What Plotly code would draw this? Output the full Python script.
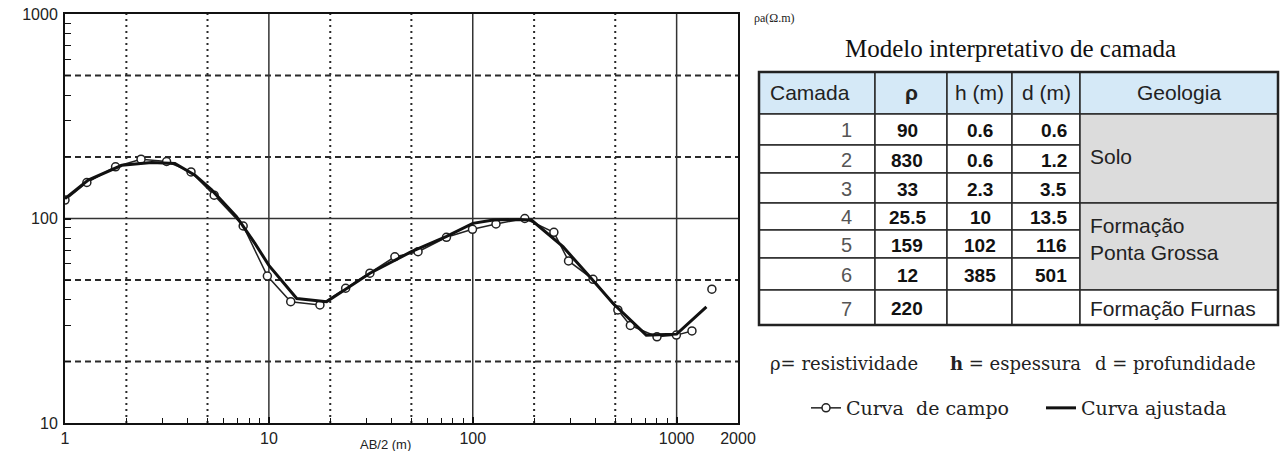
import math
import plotly.graph_objects as go

W, H = 1281, 451

# ---------------- data ----------------
# Field sounding curve (Curva de campo): AB/2 (m) and apparent resistivity (ohm.m)
ab2_field = [1.0, 1.28, 1.77, 2.36, 3.15, 4.15, 5.39, 7.48, 9.83, 12.8, 17.8, 23.8,
             31.3, 41.5, 53.9, 74.3, 99.7, 130, 180, 250, 295, 389, 515, 593,
             801, 997, 1189, 1489]
rho_field = [123, 150, 179, 195, 190, 169, 130, 91.9, 52.3, 39.2, 37.8, 45.6,
             54.0, 65.0, 68.8, 80.9, 88.5, 94, 100, 85.6, 62.0, 50.4, 35.7, 30.0,
             26.4, 26.9, 28.2, 45.1]
n_field_line = 27  # the last reading is not joined by the field line

# Fitted model curve (Curva ajustada)
ab2_fit = [1.0, 1.3, 1.9, 2.66, 3.46, 4.34, 5.24, 6.94, 8.54, 10, 13.7, 19.2, 31.3,
           50, 74, 100, 126, 170, 194, 277, 375, 487, 710, 1000, 1400]
rho_fit = [125, 154, 182, 188, 186, 163, 138, 102, 75.6, 59, 40.6, 39.2, 54,
           68.8, 81.5, 94.7, 98.3, 99, 98.3, 72.8, 51.9, 38.5, 26.9, 27.2, 37]

# Axis ticks / grid
x_tick_vals = [1, 10, 100, 1000, 2000]
x_tick_text = ["1", "10", "100", "1000", "2000"]
y_tick_vals = [10, 100, 1000]
y_tick_text = ["10", "100", "1000"]
x_grid_solid = [10, 100, 1000]
x_grid_dotted = [2, 5, 20, 50, 200, 500]
y_grid_solid = [100]
y_grid_dashed = [20, 50, 200, 500]
x_minor = [m * d for d in (1, 10, 100) for m in range(2, 10)]
y_minor = [m * d for d in (10, 100) for m in range(2, 10)]

# Layer model table
table_title = "Modelo interpretativo de camada"
table_header = ["Camada", "<b>ρ</b>", "h (m)", "d (m)", "Geologia"]
camada = ["1", "2", "3", "4", "5", "6", "7"]
rho_layer = ["90", "830", "33", "25.5", "159", "12", "220"]
h_layer = ["0.6", "0.6", "2.3", "10", "102", "385", ""]
d_layer = ["0.6", "1.2", "3.5", "13.5", "116", "501", ""]
geologia = ["Solo", "Formação<br>Ponta Grossa", "Formação Furnas"]
geologia_rows = [(0, 3), (3, 6), (6, 7)]
geologia_fill = ["#dcdcdc", "#dcdcdc", "#ffffff"]

# ---------------- layout helpers (pixel -> paper) ----------------
def fx(x):
    return x / W

def fy(y):
    return 1 - y / H

PLOT_L, PLOT_R, PLOT_T, PLOT_B = 65, 738, 14, 423
col_edges = [759, 875, 947, 1012, 1080, 1278]
row_edges = [72, 114, 145, 173, 203, 230, 258, 290, 325]

fig = go.Figure()

# ---------------- grid lines (as traces on the log axes) ----------------
def vlines(vals):
    xs, ys = [], []
    for v in vals:
        xs += [v, v, None]
        ys += [10, 1000, None]
    return xs, ys

def hlines(vals):
    xs, ys = [], []
    for v in vals:
        xs += [1, 2000, None]
        ys += [v, v, None]
    return xs, ys

gx, gy = vlines(x_grid_dotted)
fig.add_trace(go.Scatter(x=gx, y=gy, mode="lines", hoverinfo="skip", showlegend=False,
                         line=dict(color="#2a2a2a", width=2, dash="2px,4px")))
gx, gy = hlines(y_grid_dashed)
fig.add_trace(go.Scatter(x=gx, y=gy, mode="lines", hoverinfo="skip", showlegend=False,
                         line=dict(color="#2a2a2a", width=2, dash="6px,4px")))
gx, gy = vlines(x_grid_solid)
fig.add_trace(go.Scatter(x=gx, y=gy, mode="lines", hoverinfo="skip", showlegend=False,
                         line=dict(color="#333333", width=1.5)))
gx, gy = hlines(y_grid_solid)
fig.add_trace(go.Scatter(x=gx, y=gy, mode="lines", hoverinfo="skip", showlegend=False,
                         line=dict(color="#333333", width=1.5)))

# ---------------- curves ----------------
fig.add_trace(go.Scatter(x=ab2_field[:n_field_line], y=rho_field[:n_field_line],
                         mode="lines+markers", name="Curva  de campo",
                         line=dict(color="#222222", width=1.5),
                         marker=dict(symbol="circle", size=8, color="white",
                                     line=dict(color="#222222", width=1.5))))
fig.add_trace(go.Scatter(x=ab2_fit, y=rho_fit, mode="lines", name="Curva ajustada",
                         line=dict(color="#111111", width=3)))
fig.add_trace(go.Scatter(x=ab2_field[n_field_line:], y=rho_field[n_field_line:],
                         mode="markers", showlegend=False,
                         marker=dict(symbol="circle", size=8, color="white",
                                     line=dict(color="#222222", width=1.5))))

tickfont = dict(family="Liberation Sans", size=16, color="#222222")

fig.update_layout(
    width=W, height=H, autosize=False,
    margin=dict(l=0, r=0, t=0, b=0, autoexpand=False),
    paper_bgcolor="white", plot_bgcolor="white",
    xaxis=dict(type="log", range=[0, math.log10(2000)], automargin=False,
               domain=[fx(PLOT_L), fx(PLOT_R)],
               tickmode="array", tickvals=x_tick_vals, ticktext=x_tick_text,
               ticks="inside", ticklen=6, tickwidth=1.5, tickcolor="#111",
               tickfont=tickfont, showgrid=False, zeroline=False,
               showline=True, linecolor="#111", linewidth=2, mirror=True,
               minor=dict(tickvals=x_minor, ticks="inside", ticklen=5,
                          tickwidth=1.2, tickcolor="#111", showgrid=False)),
    yaxis=dict(type="log", range=[1, 3], automargin=False,
               domain=[fy(PLOT_B), fy(PLOT_T)],
               tickmode="array", tickvals=y_tick_vals, ticktext=y_tick_text,
               ticks="inside", ticklen=6, tickwidth=1.5, tickcolor="#111",
               tickfont=tickfont, showgrid=False, zeroline=False,
               ticklabelstandoff=2,
               showline=True, linecolor="#111", linewidth=2, mirror=True,
               minor=dict(tickvals=y_minor, ticks="inside", ticklen=6,
                          tickwidth=1.2, tickcolor="#111", showgrid=False)),
    showlegend=True,
    legend=dict(orientation="h", x=fx(806), y=fy(408), xanchor="left", yanchor="middle",
                bgcolor="rgba(0,0,0,0)", entrywidth=190,
                font=dict(family="DejaVu Serif", size=19, color="#222")),
)

shapes = []
annotations = []

# ---------------- table cells ----------------
BORDER = dict(color="#2a2a2a", width=1.5)
HEAD_FILL = "#d5e9f7"

for c in range(5):
    shapes.append(dict(type="rect", xref="paper", yref="paper",
                       x0=fx(col_edges[c]), x1=fx(col_edges[c + 1]),
                       y0=fy(row_edges[1]), y1=fy(row_edges[0]),
                       fillcolor=HEAD_FILL, line=BORDER, layer="below"))
for r in range(7):
    for c in range(4):
        shapes.append(dict(type="rect", xref="paper", yref="paper",
                           x0=fx(col_edges[c]), x1=fx(col_edges[c + 1]),
                           y0=fy(row_edges[r + 2]), y1=fy(row_edges[r + 1]),
                           fillcolor="white", line=BORDER, layer="below"))
for (r0, r1), fill in zip(geologia_rows, geologia_fill):
    shapes.append(dict(type="rect", xref="paper", yref="paper",
                       x0=fx(col_edges[4]), x1=fx(col_edges[5]),
                       y0=fy(row_edges[r1 + 1]), y1=fy(row_edges[r0 + 1]),
                       fillcolor=fill, line=BORDER, layer="below"))
# outer border
shapes.append(dict(type="rect", xref="paper", yref="paper",
                   x0=fx(col_edges[0]), x1=fx(col_edges[-1]),
                   y0=fy(row_edges[-1]), y1=fy(row_edges[0]),
                   line=dict(color="#222", width=2.5), layer="below"))

def add_text(text, x, y, xanchor="center", font=None, align="center"):
    annotations.append(dict(text=text, x=fx(x), y=fy(y), xref="paper", yref="paper",
                            xanchor=xanchor, yanchor="middle", showarrow=False,
                            font=font, align=align))

head_font = dict(family="Liberation Sans", size=21, color="#222")
head_x = [810, 911, 979, 1046, 1179]
head_y = (row_edges[0] + row_edges[1]) / 2
for t, x in zip(table_header, head_x):
    add_text(t, x, head_y, font=head_font)

num_font = dict(family="Liberation Sans", size=19, color="#111", weight="bold")
cam_font = dict(family="Liberation Sans", size=20, color="#555")
for r in range(7):
    yc = (row_edges[r + 1] + row_edges[r + 2]) / 2 + 1
    add_text(camada[r], 846, yc, font=cam_font)
    add_text("<b>" + rho_layer[r] + "</b>", 907, yc, font=num_font)
    if h_layer[r]:
        add_text("<b>" + h_layer[r] + "</b>", 980, yc, font=num_font)
    if d_layer[r]:
        add_text("<b>" + d_layer[r] + "</b>", 1069, yc, xanchor="right", font=num_font)

geo_font = dict(family="Liberation Sans", size=21, color="#222")
geo_y = [156, 239, 308]
for t, y in zip(geologia, geo_y):
    add_text(t, 1088, y, xanchor="left", font=geo_font, align="left")

# title of table and axis labels
add_text(table_title, 1010, 48,
         font=dict(family="Liberation Serif", size=25, color="#111"))
add_text("ρa(Ω.m)", 752, 18, xanchor="left",
         font=dict(family="Liberation Serif", size=12, color="#222"))
add_text("AB/2 (m)", 385, 444,
         font=dict(family="Liberation Sans", size=13, color="#222"))

# symbol key
key_font = dict(family="DejaVu Serif", size=18, color="#222")
add_text("ρ= resistividade", 768, 363, xanchor="left", font=key_font)
add_text("<b>h</b> = espessura", 948, 363, xanchor="left", font=key_font)
add_text("d = profundidade", 1093, 363, xanchor="left", font=key_font)

fig.update_layout(shapes=shapes, annotations=annotations)

fig.write_html("out.html",
               config={"displayModeBar": False},
               post_script="document.body.style.margin='0px';"
                           "document.body.style.overflow='hidden';")
